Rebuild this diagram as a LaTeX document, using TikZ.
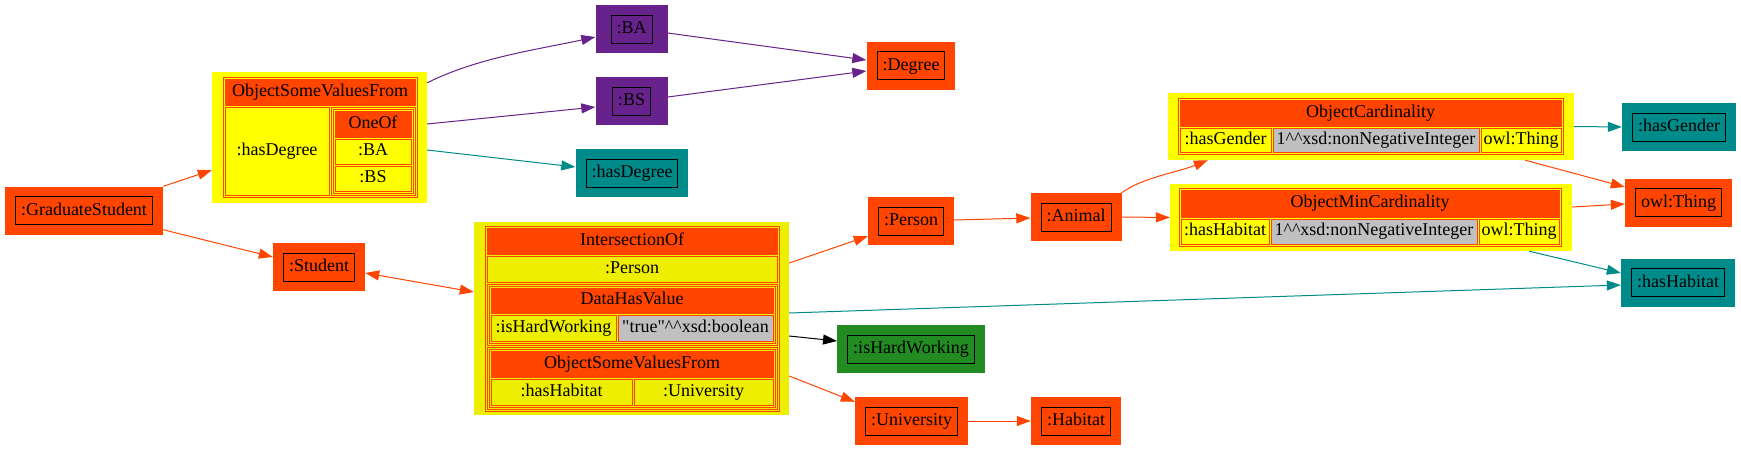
\documentclass[tikz,border=0pt]{standalone}
\usepackage{fontspec}
\setmainfont{Liberation Serif}
\usetikzlibrary{arrows.meta,calc}

\definecolor{orangered}{HTML}{FF4500}
\definecolor{cardyellow}{HTML}{FFFF00}
\definecolor{interyellow}{HTML}{EEEE00}
\definecolor{litgray}{HTML}{C0C0C0}
\definecolor{propteal}{HTML}{008B8B}
\definecolor{indivpurple}{HTML}{68228B}
\definecolor{datagreen}{HTML}{228B22}

\newcommand{\frm}[1]{{\setlength{\fboxsep}{5pt}\setlength{\fboxrule}{1pt}\fbox{\rule[-4pt]{0pt}{17pt}#1}}}
\newcommand{\dt}{\textasciicircum\textasciicircum}
\newcommand{\cellat}[7]{\node[#1, minimum width={#5-#3}, minimum height={#6-#4}] (#2) at ({(#3+#5)/2},{(#4+#6)/2}) {#7};}

\tikzset{
  gvtip/.tip={Triangle[length=14pt,width=10pt]},
  term/.style={fill=#1, inner xsep=10pt, inner ysep=9.5pt, minimum width=72pt, minimum height=48pt},
  term/.default=orangered,
  wrap/.style={fill=#1, inner sep=0pt},
  tabframe/.style={fill=#1, draw=orangered, line width=1pt, inner sep=0pt},
  hdr/.style={fill=orangered, draw=orangered, line width=1pt, inner sep=0pt, text height=12pt, text depth=4pt},
  cell/.style={fill=#1, draw=orangered, line width=1pt, inner sep=0pt, text height=12pt, text depth=4pt},
  cell/.default=cardyellow,
  link/.style={draw=#1, line width=1pt, -gvtip},
  link/.default=orangered,
}

\begin{document}
\begin{tikzpicture}[x=1pt, y=-1pt, font=\fontsize{18pt}{21pt}\selectfont]
  \useasboundingbox (0,0) rectangle (1741,451);

  % ObjectSomeValuesFrom with OneOf
  \cellat{wrap=cardyellow}{osvf}{212}{72}{427}{203}{}
  \cellat{tabframe=cardyellow}{osvf-tab}{223}{77}{417}{197}{}
  \cellat{hdr}{osvf-hd}{225}{79}{415}{105}{ObjectSomeValuesFrom}
  \cellat{cell}{osvf-prop}{225}{107}{329}{195}{:hasDegree}
  \cellat{cell}{osvf-rng}{331}{107}{415}{195}{}
  \cellat{tabframe=cardyellow}{oneof}{333}{109}{413}{193}{}
  \cellat{hdr}{oneof-hd}{335}{111}{411}{137}{OneOf}
  \cellat{cell}{oneof-a}{335}{139}{411}{164}{:BA}
  \cellat{cell}{oneof-b}{335}{166}{411}{191}{:BS}

  % IntersectionOf
  \cellat{wrap=interyellow}{inter}{474}{222}{789}{415}{}
  \cellat{tabframe=interyellow}{inter-tab}{485}{226}{779}{411}{}
  \cellat{hdr}{inter-hd}{487}{228}{777}{254}{IntersectionOf}
  \cellat{cell=interyellow}{inter-cls}{487}{256}{777}{282}{:Person}
  \cellat{cell=interyellow}{inter-dhv}{487}{284}{777}{345}{}
  \cellat{tabframe=interyellow}{dhv}{489}{286}{775}{343}{}
  \cellat{hdr}{dhv-hd}{491}{288}{773}{313}{DataHasValue}
  \cellat{cell=interyellow}{dhv-prop}{491}{315}{616}{341}{:isHardWorking}
  \cellat{cell=litgray}{dhv-val}{618}{315}{773}{341}{\textquotedbl true\textquotedbl\dt xsd:boolean}
  \cellat{cell=interyellow}{inter-osvf}{487}{347}{777}{409}{}
  \cellat{tabframe=interyellow}{osvf2}{489}{349}{775}{407}{}
  \cellat{hdr}{osvf2-hd}{491}{351}{773}{377}{ObjectSomeValuesFrom}
  \cellat{cell=interyellow}{osvf2-prop}{491}{379}{632}{405}{:hasHabitat}
  \cellat{cell=interyellow}{osvf2-rng}{634}{379}{773}{405}{:University}

  % cardinalities
  \cellat{wrap=cardyellow}{card}{1168}{93}{1574}{160}{}
  \cellat{tabframe=cardyellow}{card-tab}{1178}{98}{1563}{154}{}
  \cellat{hdr}{card-hd}{1180}{100}{1561}{126}{ObjectCardinality}
  \cellat{cell}{card-prop}{1180}{128}{1271}{152}{:hasGender}
  \cellat{cell=litgray}{card-num}{1273}{128}{1479}{152}{1\dt xsd:nonNegativeInteger}
  \cellat{cell}{card-rng}{1481}{128}{1561}{152}{owl:Thing}

  \cellat{wrap=cardyellow}{mincard}{1170}{184}{1572}{251}{}
  \cellat{tabframe=cardyellow}{mincard-tab}{1179}{188}{1561}{246}{}
  \cellat{hdr}{mincard-hd}{1181}{190}{1559}{217}{ObjectMinCardinality}
  \cellat{cell}{mincard-prop}{1181}{219}{1269}{244}{:hasHabitat}
  \cellat{cell=litgray}{mincard-num}{1271}{219}{1477}{244}{1\dt xsd:nonNegativeInteger}
  \cellat{cell}{mincard-rng}{1479}{219}{1559}{244}{owl:Thing}

  % entities
  \node[term] (gs) at (84,210.5) {\frm{:GraduateStudent}};
  \node[term] (stud) at (319,267) {\frm{:Student}};
  \node[term=indivpurple] (ba) at (631.5,29) {\frm{:BA}};
  \node[term=indivpurple] (bs) at (631.5,101) {\frm{:BS}};
  \node[term=propteal] (hdeg) at (632,173) {\frm{:hasDegree}};
  \node[term] (deg) at (911,65.5) {\frm{:Degree}};
  \node[term] (pers) at (911,221) {\frm{:Person}};
  \node[term=datagreen] (hard) at (911,349) {\frm{:isHardWorking}};
  \node[term] (univ) at (911.5,421) {\frm{:University}};
  \node[term] (anim) at (1076,217) {\frm{:Animal}};
  \node[term] (hab) at (1076,421) {\frm{:Habitat}};
  \node[term=propteal] (hgen) at (1679,127) {\frm{:hasGender}};
  \node[term] (thing) at (1678.5,202.5) {\frm{owl:Thing}};
  \node[term=propteal] (hhab) at (1678,282.5) {\frm{:hasHabitat}};

  % edges
  \draw[link] (gs.north east) -- ($(osvf.south west)+(0,-33)$);
  \draw[link] ($(gs.south east)+(0,-5)$) -- ($(stud.west)+(0,-10)$);
  \draw[link, gvtip-gvtip] ($(stud.east)+(0,6)$) -- ($(inter.west)+(0,-26.5)$);
  \draw[link=indivpurple] ($(osvf.north east)+(0,11)$) .. controls +(50,-25) and +(-60,13) .. ($(ba.west)+(0,8)$);
  \draw[link=indivpurple] ($(osvf.east)+(0,-13.5)$) -- ($(bs.west)+(0,6)$);
  \draw[link=propteal] ($(osvf.east)+(0,12.5)$) -- ($(hdeg.west)+(0,-6)$);
  \draw[link=indivpurple] ($(ba.east)+(0,4)$) -- ($(deg.west)+(0,-5.5)$);
  \draw[link=indivpurple] ($(bs.east)+(0,-4)$) -- ($(deg.west)+(0,5.5)$);
  \draw[link] ($(inter.east)+(0,-55.5)$) -- ($(pers.south west)+(0,-9)$);
  \draw[link=propteal] ($(inter.east)+(0,-5.5)$) -- ($(hhab.west)+(0,2.5)$);
  \draw[link=black] ($(inter.east)+(0,17.5)$) -- ($(hard.west)+(0,-8)$);
  \draw[link] ($(inter.east)+(0,57.5)$) -- ($(univ.north west)+(0,5)$);
  \draw[link] ($(pers.east)+(0,-1)$) -- ($(anim.west)+(0,1)$);
  \draw[link] (univ.east) -- (hab.west);
  \draw[link] (anim.north east) .. controls +(20,-15) and +(-30,12) .. ($(card.south west)+(40,0)$);
  \draw[link] (anim.east) -- (mincard.west);
  \draw[link=propteal] (card.east) -- (hgen.west);
  \draw[link] ($(card.south east)+(-49,0)$) -- ($(thing.west)+(0,-15.5)$);
  \draw[link] ($(mincard.east)+(0,-10.5)$) -- ($(thing.west)+(0,1.5)$);
  \draw[link=propteal] ($(mincard.south east)+(-43,0)$) -- ($(hhab.west)+(0,-9.5)$);
\end{tikzpicture}
\end{document}
